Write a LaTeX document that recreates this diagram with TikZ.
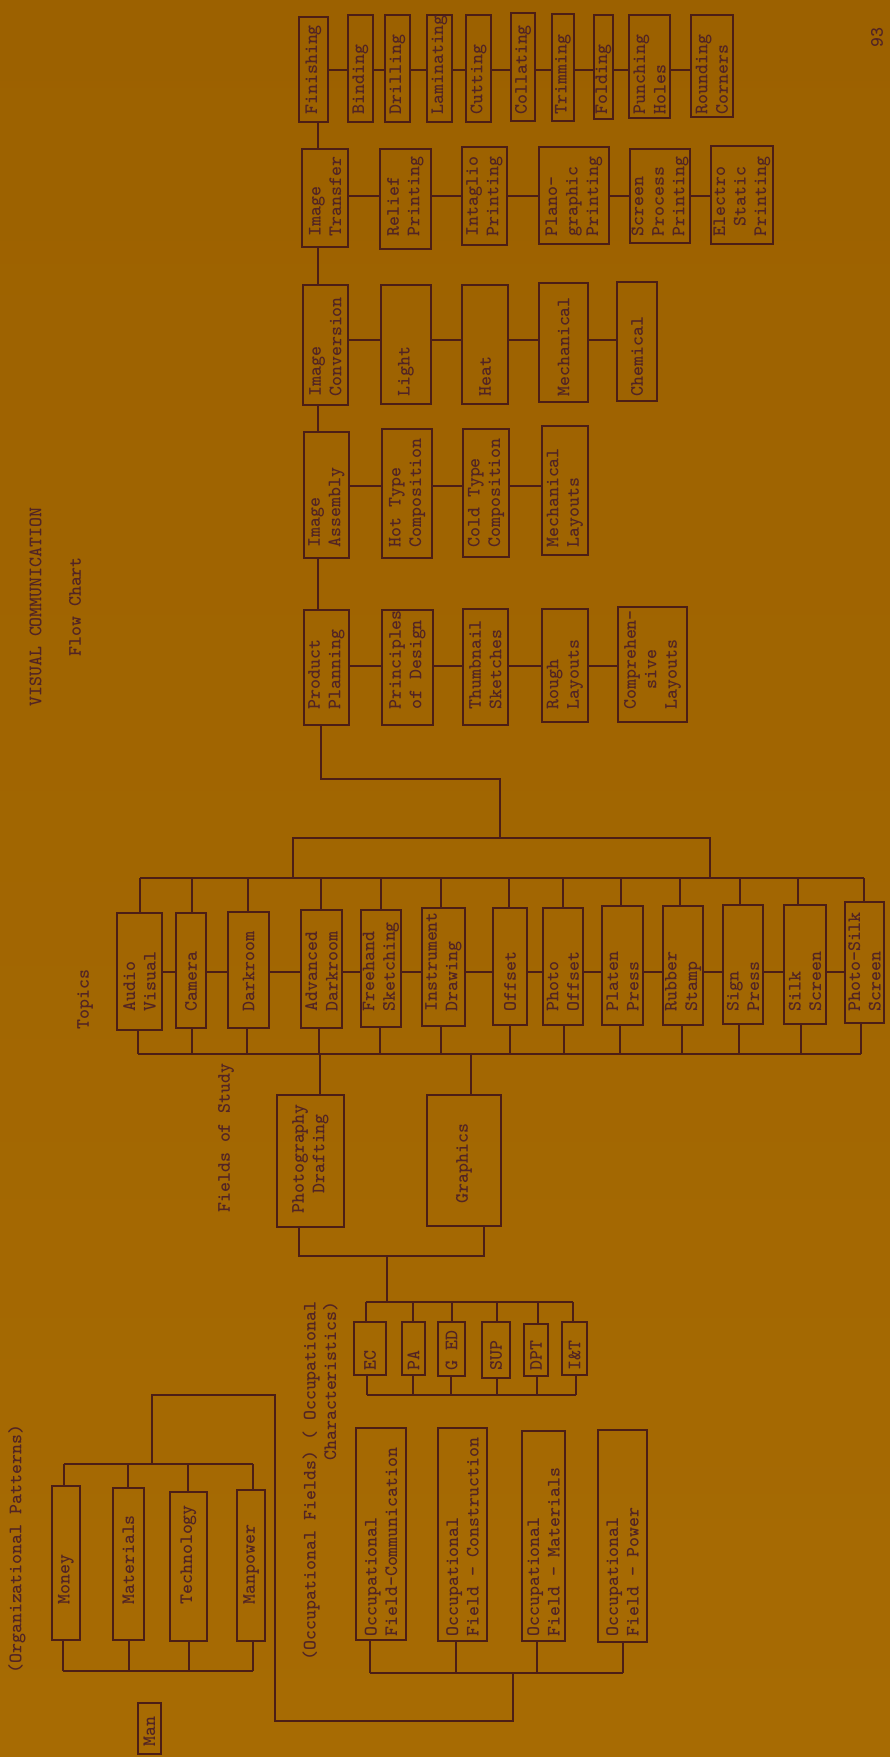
\documentclass[tikz,border=0pt]{standalone}
\usetikzlibrary{calc}
\definecolor{bgtop}{RGB}{156,97,0}
\definecolor{bgbot}{RGB}{167,107,3}
\definecolor{ink}{RGB}{76,30,22}
\definecolor{tink}{RGB}{82,36,36}
\tikzset{
  box/.style={draw=ink, line width=1.8pt, rectangle, inner sep=0pt, outer sep=0pt},
  txt/.style={rotate=90, anchor=west, align=left, inner sep=0pt, text=tink,
    font=\ttfamily\bfseries\fontsize{19}{20.5}\selectfont},
  lab/.style={rotate=90, anchor=west, inner sep=0pt, text=tink,
    font=\ttfamily\bfseries\fontsize{19}{20.5}\selectfont},
  wire/.style={draw=ink, line width=1.6pt},
}
% name, x1, y1, x2, y2, text start y, text
\newcommand\bx[8][]{%
  \node[box, minimum width={#5-#3}, minimum height={#6-#4}] (#2) at ({(#3+#5)/2},{(#4+#6)/2}) {};%
  \node[txt,#1] (#2-t) at ({(#3+#5)/2},#7) {#8};}
\begin{document}
\begin{tikzpicture}[x=1pt,y=-1pt]
\useasboundingbox (0,0) rectangle (890,1757);
\shade[top color=bgtop, bottom color=bgbot] (0,0) rectangle (890,1757);

% titles
\node[lab] (title) at (35.5,707) {VISUAL COMMUNICATION};
\node[lab] (flow) at (75,657) {Flow Chart};
\node[lab] (pg) at (877,48) {93};
\node[lab] (topics) at (85,1030) {Topics};
\node[lab] (fos) at (226,1213) {Fields of Study};
\node[lab] (orgp) at (17,1674) {(Organizational Patterns)};
\node[lab, anchor=east, align=right] (occf) at (320,1301) {(Occupational Fields) ( Occupational\\Characteristics)};

% row Finishing
\bx{fin}{299}{17}{328}{122}{115}{Finishing}
\bx{bind}{348}{15}{373}{122}{115}{Binding}
\bx{drill}{385}{15}{410}{122}{115}{Drilling}
\bx{lam}{427}{15}{452}{122}{115}{Laminating}
\bx{cut}{466}{15}{491}{122}{115}{Cutting}
\bx{coll}{511}{13}{535}{121}{115}{Collating}
\bx{trim}{552}{14}{574}{121}{115}{Trimming}
\bx{fold}{594}{15}{613}{119}{115}{Folding}
\bx{punch}{629}{15}{670}{118}{115}{Punching\\Holes}
\bx{round}{691}{15}{733}{117}{115}{Rounding\\Corners}

% row Image Transfer
\bx{itr}{302}{149}{348}{247}{237}{Image\\Transfer}
\bx{rel}{380}{149}{431}{249}{237}{Relief\\Printing}
\bx{intg}{462}{147}{507}{245}{237}{Intaglio\\Printing}
\bx{plano}{539}{147}{609}{244}{237}{Plano-\\graphic\\Printing}
\bx{scr}{630}{149}{690}{243}{237}{Screen\\Process\\Printing}
\bx{elec}{711}{146}{773}{244}{237}{Electro\\~Static\\Printing}

% row Image Conversion
\bx{ic}{303}{285}{348}{405}{397}{Image\\Conversion}
\bx{light}{381}{285}{431}{404}{397}{Light}
\bx{heat}{462}{285}{508}{404}{397}{Heat}
\bx{mech}{539}{283}{588}{402}{397}{Mechanical}
\bx{chem}{617}{282}{657}{401}{397}{Chemical}

% row Image Assembly
\bx{ia}{304}{432}{349}{558}{548}{Image\\Assembly}
\bx{hot}{382}{429}{432}{558}{548}{Hot Type\\Composition}
\bx{cold}{463}{429}{509}{557}{548}{Cold Type\\Composition}
\bx{mlay}{542}{426}{588}{555}{548}{Mechanical\\Layouts}

% row Product Planning
\bx{pp}{304}{610}{349}{725}{710}{Product\\Planning}
\bx{prin}{382}{610}{433}{725}{710}{Principles\\of Design}
\bx{thumb}{463}{609}{508}{725}{710}{Thumbnail\\Sketches}
\bx{rough}{542}{609}{588}{722}{710}{Rough\\Layouts}
\bx{comp}{618}{607}{687}{722}{710}{Comprehen-\\~~sive\\Layouts}

% Topics
\bx{av}{117}{913}{162}{1030}{1012}{Audio\\Visual}
\bx{cam}{176}{913}{206}{1028}{1012}{Camera}
\bx{dark}{228}{912}{269}{1028}{1012}{Darkroom}
\bx{advd}{301}{910}{342}{1028}{1012}{Advanced\\Darkroom}
\bx{free}{361}{910}{401}{1027}{1012}{Freehand\\Sketching}
\bx{instr}{422}{908}{465}{1026}{1012}{Instrument\\Drawing}
\bx{off}{493}{908}{527}{1025}{1012}{Offset}
\bx{poff}{543}{908}{583}{1025}{1012}{Photo\\Offset}
\bx{plat}{602}{906}{643}{1025}{1012}{Platen\\Press}
\bx{rub}{663}{906}{703}{1025}{1012}{Rubber\\Stamp}
\bx{sign}{723}{905}{763}{1024}{1012}{Sign\\Press}
\bx{silk}{784}{905}{826}{1024}{1012}{Silk\\Screen}
\bx{psilk}{845}{902}{884}{1023}{1012}{Photo-Silk\\Screen}

% Fields of study
\bx{photo}{277}{1095}{344}{1227}{1214}{Photography\\~~Drafting}
\bx{graph}{427}{1095}{501}{1226}{1204}{Graphics}

% Occupational characteristics
\bx{ec}{354}{1322}{386}{1375}{1371}{EC}
\bx{pa}{402}{1322}{425}{1375}{1371}{PA}
\bx{ged}{438}{1322}{465}{1376}{1371}{G ED}
\bx{sup}{482}{1322}{510}{1378}{1371}{SUP}
\bx{dpt}{524}{1324}{548}{1376}{1371}{DPT}
\bx{iandt}{562}{1322}{587}{1375}{1371}{I\&T}

% Occupational fields
\bx{ocom}{356}{1428}{406}{1640}{1637}{Occupational\\Field-Communication}
\bx{ocon}{438}{1428}{487}{1641}{1637}{Occupational\\Field - Construction}
\bx{omat}{522}{1431}{565}{1641}{1637}{Occupational\\Field - Materials}
\bx{opow}{598}{1430}{647}{1642}{1637}{Occupational\\Field - Power}

% Organizational patterns
\bx{money}{52}{1486}{80}{1640}{1605}{Money}
\bx{mat}{113}{1488}{144}{1640}{1605}{Materials}
\bx{tech}{170}{1492}{207}{1641}{1605}{Technology}
\bx{manp}{237}{1490}{265}{1641}{1605}{Manpower}
\bx{man}{138}{1703}{161}{1754}{1747}{Man}

% ---------- connectors ----------
\coordinate (sp) at (318,0);
\foreach \a/\b in {fin/itr, itr/ic, ic/ia, ia/pp}
  \draw[wire] (\a.south -| sp) -- (\b.north -| sp);

\coordinate (r1) at (0,70);
\coordinate (r2) at (0,196);
\coordinate (r3) at (0,340);
\coordinate (r4) at (0,486);
\coordinate (r5) at (0,666);
\coordinate (r6) at (0,972);
\foreach \a/\b in {fin/bind, bind/drill, drill/lam, lam/cut, cut/coll, coll/trim, trim/fold, fold/punch, punch/round}
  \draw[wire] (\a.east |- r1) -- (\b.west |- r1);
\foreach \a/\b in {itr/rel, rel/intg, intg/plano, plano/scr, scr/elec}
  \draw[wire] (\a.east |- r2) -- (\b.west |- r2);
\foreach \a/\b in {ic/light, light/heat, heat/mech, mech/chem}
  \draw[wire] (\a.east |- r3) -- (\b.west |- r3);
\foreach \a/\b in {ia/hot, hot/cold, cold/mlay}
  \draw[wire] (\a.east |- r4) -- (\b.west |- r4);
\foreach \a/\b in {pp/prin, prin/thumb, thumb/rough, rough/comp}
  \draw[wire] (\a.east |- r5) -- (\b.west |- r5);
\foreach \a/\b in {av/cam, cam/dark, dark/advd, advd/free, free/instr, instr/off, off/poff, poff/plat, plat/rub, rub/sign, sign/silk, silk/psilk}
  \draw[wire] (\a.east |- r6) -- (\b.west |- r6);

% product planning to topics
\coordinate (k1) at (321,779);
\coordinate (k2) at (500,779);
\coordinate (bl) at (293,838);
\coordinate (br) at (710,838);
\coordinate (tbl) at (140,878);
\coordinate (tbr) at (864,878);
\draw[wire] (pp.south -| k1) -- (k1) -- (k2) -- (k2 |- bl);
\draw[wire] (bl |- tbl) -- (bl) -- (br) -- (br |- tbl);
\draw[wire] (tbl) -- (tbr);
\foreach \n/\x in {av/140, cam/192, dark/248, advd/321, free/381, instr/441, off/509, poff/563, plat/621, rub/680, sign/740, silk/798, psilk/864}
  {\coordinate (d) at (\x,878); \draw[wire] (d) -- (\n.north -| d);}
\coordinate (bbl) at (138,1054);
\coordinate (bbr) at (861,1054);
\draw[wire] (bbl) -- (bbr);
\foreach \n/\x in {av/138, cam/192, dark/247, advd/319, free/380, instr/441, off/510, poff/564, plat/620, rub/682, sign/739, silk/801, psilk/861}
  {\coordinate (d) at (\x,1054); \draw[wire] (\n.south -| d) -- (d);}

% topics to fields of study
\coordinate (g1) at (320,1054);
\coordinate (g2) at (471,1054);
\draw[wire] (g1) -- (photo.north -| g1);
\draw[wire] (g2) -- (graph.north -| g2);
\coordinate (f1) at (299,1256);
\coordinate (f2) at (484,1256);
\coordinate (f3) at (387,1256);
\coordinate (f4) at (387,1302);
\draw[wire] (photo.south -| f1) -- (f1) -- (f2) -- (graph.south -| f2);
\draw[wire] (f3) -- (f4);

% occupational characteristics buses
\coordinate (e1) at (366,1302);
\coordinate (e2) at (573,1302);
\draw[wire] (e1) -- (e2);
\foreach \n/\x in {ec/366, pa/413, ged/452, sup/497, dpt/538, iandt/573}
  {\coordinate (d) at (\x,1302); \draw[wire] (d) -- (\n.north -| d);}
\coordinate (e3) at (367,1395);
\coordinate (e4) at (576,1395);
\draw[wire] (e3) -- (e4);
\foreach \n/\x in {ec/367, pa/413, ged/451, sup/497, dpt/537, iandt/576}
  {\coordinate (d) at (\x,1395); \draw[wire] (\n.south -| d) -- (d);}

% occupational fields bus
\coordinate (q1) at (370,1673);
\coordinate (q2) at (623,1673);
\draw[wire] (q1) -- (q2);
\foreach \n/\x in {ocom/370, ocon/456, omat/537, opow/623}
  {\coordinate (d) at (\x,1673); \draw[wire] (\n.south -| d) -- (d);}
\coordinate (o1) at (513,1673);
\coordinate (o2) at (513,1721);
\coordinate (o3) at (275,1721);
\coordinate (o4) at (275,1395);
\coordinate (o5) at (152,1395);
\coordinate (o6) at (152,1464);
\draw[wire] (o1) -- (o2) -- (o3) -- (o4) -- (o5) -- (o6);

% organizational patterns buses
\coordinate (m1) at (64,1464);
\coordinate (m2) at (253,1464);
\draw[wire] (m1) -- (m2);
\foreach \n/\x in {money/64, mat/128, tech/188, manp/253}
  {\coordinate (d) at (\x,1464); \draw[wire] (d) -- (\n.north -| d);}
\coordinate (m3) at (63,1671);
\coordinate (m4) at (253,1671);
\draw[wire] (m3) -- (m4);
\foreach \n/\x in {money/63, mat/129, tech/189, manp/253}
  {\coordinate (d) at (\x,1671); \draw[wire] (\n.south -| d) -- (d);}
\end{tikzpicture}
\end{document}
